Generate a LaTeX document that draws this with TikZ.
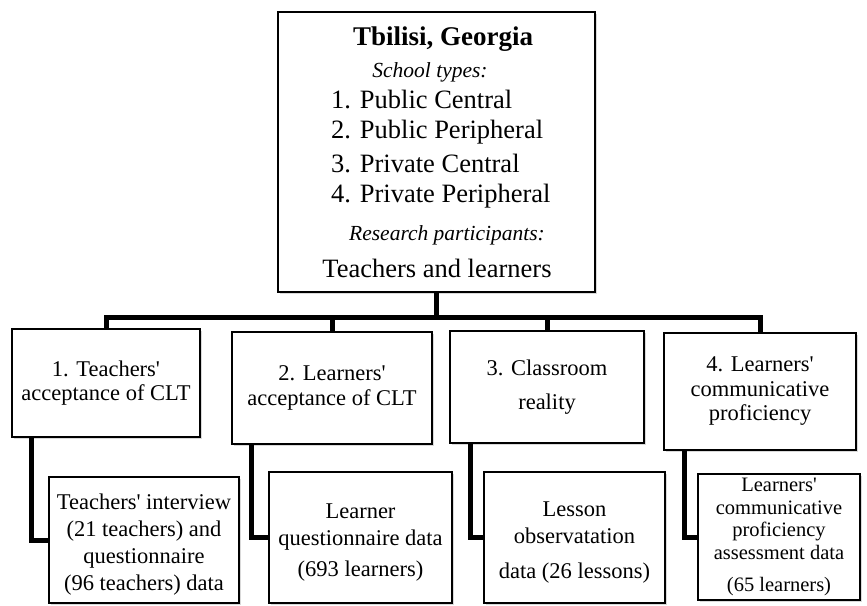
\documentclass[tikz,border=0pt]{standalone}
\usepackage{fontspec}
\setmainfont{Liberation Serif}
\usetikzlibrary{shadows}
\newcommand{\ap}{\textquotesingle}
\begin{document}
\begin{tikzpicture}[x=1pt,y=-1pt,
  box/.style={draw=black, line width=1.6pt, fill=white, inner sep=2pt, align=center,
    drop shadow={shadow xshift=1.5pt, shadow yshift=-1.5pt, opacity=0.3}},
  conn/.style={line width=5pt},
  lbl/.style={inner sep=0pt},
  mainf/.style={font=\fontsize{22.5}{24.5}\selectfont},
  subf/.style={font=\fontsize{22.5}{27}\selectfont},
  smallf/.style={font=\fontsize{20.5}{22.5}\selectfont}]
\useasboundingbox (0,0) rectangle (867,605);

% top box
\node[box, minimum width=317pt, minimum height=280pt] (top) at (436.5,152) {};
\node[lbl, anchor=base, font=\bfseries\fontsize{27}{30}\selectfont] (tA) at (443,45) {Tbilisi, Georgia};
\node[lbl, anchor=base, font=\itshape\fontsize{21.5}{24}\selectfont] (tB) at (430,77) {School types:};
\node[lbl, anchor=base west, font=\fontsize{26.5}{30}\selectfont] (tC) at (331,108) {1. Public Central};
\node[lbl, anchor=base west, font=\fontsize{26.5}{30}\selectfont] (tD) at (331,138) {2. Public Peripheral};
\node[lbl, anchor=base west, font=\fontsize{26.5}{30}\selectfont] (tE) at (331,172) {3. Private Central};
\node[lbl, anchor=base west, font=\fontsize{26.5}{30}\selectfont] (tF) at (331,202) {4. Private Peripheral};
\node[lbl, anchor=base, font=\itshape\fontsize{21.5}{24}\selectfont] (tG) at (447,240) {Research participants:};
\node[lbl, anchor=base, font=\fontsize{26.5}{30}\selectfont] (tH) at (437,277) {Teachers and learners};

% level 2 boxes
\node[box, mainf, minimum width=188pt, minimum height=108pt] (b1) at (106,383) {1. Teachers\ap\\acceptance of CLT};
\node[box, mainf, minimum width=200pt, minimum height=112pt] (b2) at (332,388) {2. Learners\ap\\acceptance of CLT};
\node[box, mainf, minimum width=194pt, minimum height=112pt] (b3) at (547,387) {3. Classroom\\[9pt]reality};
\node[box, mainf, minimum width=192pt, minimum height=117pt] (b4) at (760,391.5) {4. Learners\ap\\communicative\\proficiency};

% level 3 boxes
\node[box, subf, minimum width=190pt, minimum height=126pt] (s1) at (144,540) {\rule{0pt}{24pt}Teachers\ap{} interview\\(21 teachers) and\\questionnaire\\(96 teachers) data};
\node[box, subf, minimum width=183pt, minimum height=131pt] (s2) at (360.5,537.5) {\rule{0pt}{25pt}Learner\\questionnaire data\\[4pt](693 learners)};
\node[box, subf, minimum width=181pt, minimum height=131pt] (s3) at (574.5,537.5) {\rule{0pt}{25pt}Lesson\\observatation\\[8pt]data (26 lessons)};
\node[box, smallf, minimum width=162pt, minimum height=126pt] (s4) at (779,537) {Learners\ap\\communicative\\proficiency\\assessment data\\[10pt](65 learners)};

% connectors
\coordinate (bar) at (436.5,317);
\draw[conn] (top.south) -- (bar);
\draw[conn] (b1.north) |- (bar) -| (b4.north);
\draw[conn] (bar -| b2.north) -- (b2.north);
\draw[conn] (bar -| b3.north) -- (b3.north);
\draw[conn] ([xshift=20pt]b1.south west) |- (s1.west);
\draw[conn] ([xshift=20pt]b2.south west) |- (s2.west);
\draw[conn] ([xshift=21pt]b3.south west) |- (s3.west);
\draw[conn] ([xshift=21pt]b4.south west) |- (s4.west);
\end{tikzpicture}
\end{document}
